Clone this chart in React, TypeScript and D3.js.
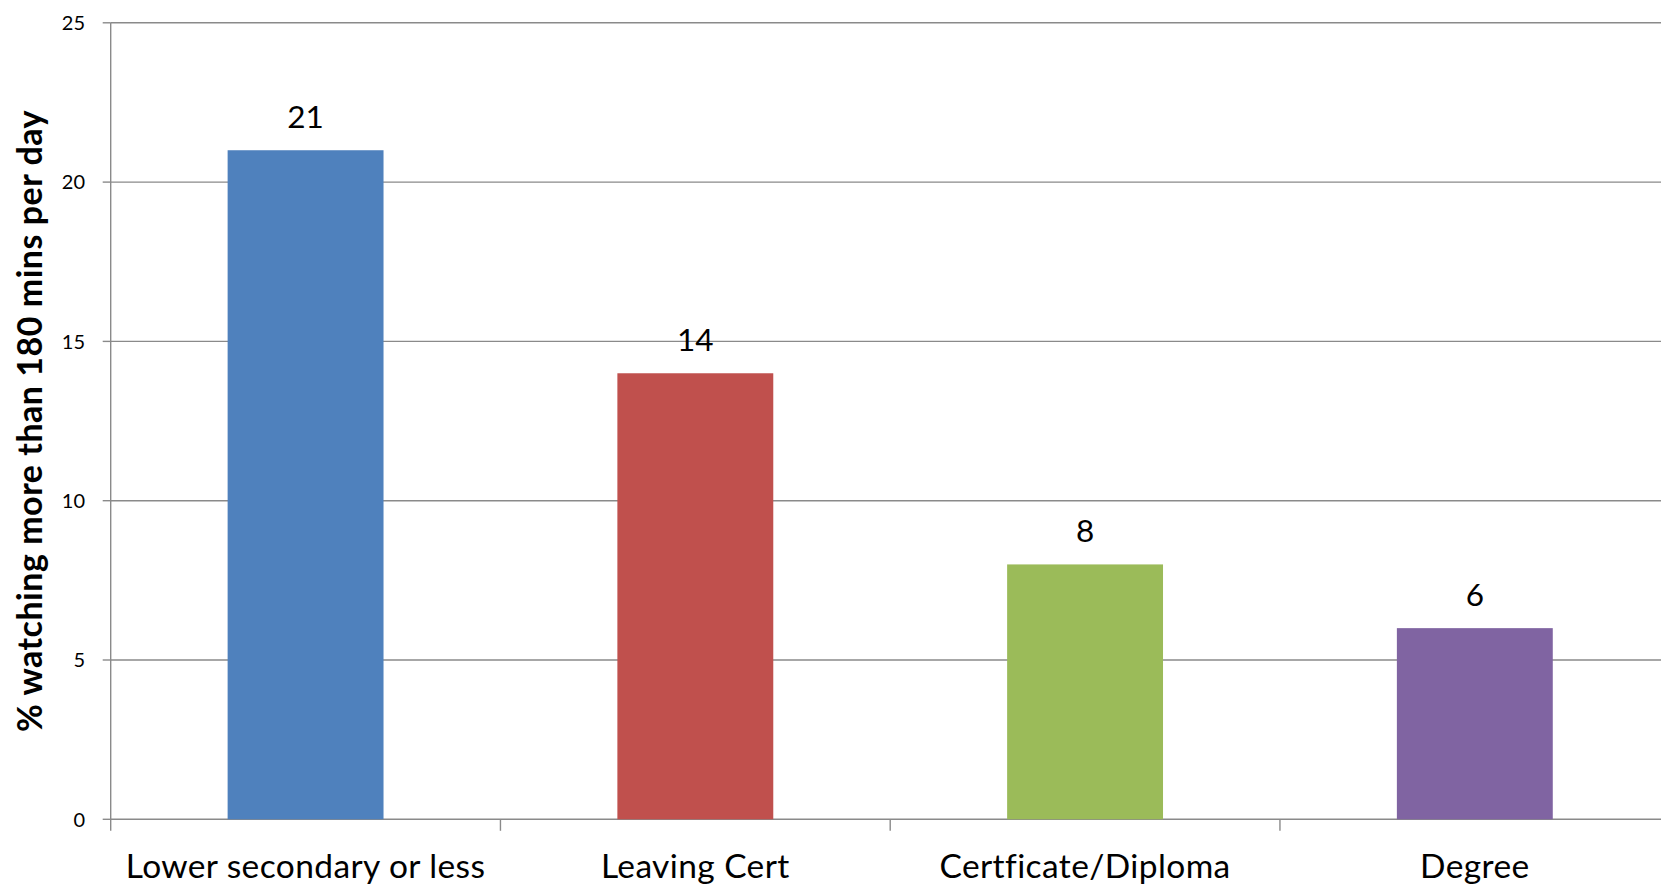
import React from "react";
import * as d3 from "d3";

// Share of adults watching TV for more than 180 minutes a day, by education level
const categories: string[] = [
  "Lower secondary or less",
  "Leaving Cert",
  "Certficate/Diploma",
  "Degree",
];
const values: number[] = [21, 14, 8, 6];
const barColors: string[] = ["#4F81BD", "#C0504D", "#9BBB59", "#8064A2"];
const yTicks: number[] = [0, 5, 10, 15, 20, 25];
const yTitle = "% watching more than 180 mins per day";

const W = 1661;
const H = 886;
const FONT = "Lato, 'Open Sans', sans-serif";

export default function App() {
  const left = 110.7;
  const step = 389.75;
  const right = left + step * categories.length;
  const top = 22.8;
  const bottom = 819.3;

  const x = d3
    .scaleBand<string>()
    .domain(categories)
    .range([left, right])
    .paddingInner(0.6)
    .paddingOuter(0.3);
  const y = d3.scaleLinear().domain([0, 25]).range([bottom, top]);

  const boundaries = d3.range(categories.length + 1).map((i) => left + i * x.step());
  const axisColor = "#8a8a8a";

  return (
    <svg
      width={W}
      height={H}
      style={{ position: "absolute", left: 0, top: 0, background: "#fff" }}
      fontFamily={FONT}
    >
      {/* horizontal gridlines and y ticks */}
      {yTicks.map((t) => (
        <g key={t}>
          <line
            x1={left}
            x2={right}
            y1={y(t)}
            y2={y(t)}
            stroke={axisColor}
            strokeWidth={1.4}
          />
          <line
            x1={left - 8}
            x2={left}
            y1={y(t)}
            y2={y(t)}
            stroke={axisColor}
            strokeWidth={1.4}
          />
          <text
            x={85}
            y={y(t)}
            dy="0.36em"
            textAnchor="end"
            fontSize={20}
            fill="#000"
          >
            {t}
          </text>
        </g>
      ))}

      {/* y axis line */}
      <line x1={left} x2={left} y1={top} y2={bottom + 11.5} stroke={axisColor} strokeWidth={1.4} />

      {/* category boundary ticks */}
      {boundaries.slice(1).map((bx, i) => (
        <line
          key={i}
          x1={bx}
          x2={bx}
          y1={bottom}
          y2={bottom + 11.5}
          stroke={axisColor}
          strokeWidth={1.4}
        />
      ))}

      {/* bars */}
      {categories.map((c, i) => (
        <rect
          key={c}
          x={x(c)!}
          y={y(values[i])}
          width={x.bandwidth()}
          height={y(0) - y(values[i])}
          fill={barColors[i]}
        />
      ))}

      {/* value labels */}
      {categories.map((c, i) => (
        <text
          key={c}
          x={x(c)! + x.bandwidth() / 2}
          y={y(values[i]) - 22}
          textAnchor="middle"
          fontSize={31.5}
          fill="#000"
        >
          {values[i]}
        </text>
      ))}

      {/* category labels */}
      {categories.map((c) => (
        <text
          key={c}
          x={x(c)! + x.bandwidth() / 2}
          y={878.3}
          textAnchor="middle"
          fontSize={33.5}
          letterSpacing={0.4}
          fill="#000"
        >
          {c}
        </text>
      ))}

      {/* y axis title */}
      <text
        transform={`translate(42, ${(top + bottom) / 2}) rotate(-90)`}
        textAnchor="middle"
        fontSize={34}
        letterSpacing={0.5}
        fontWeight="bold"
        fill="#000"
      >
        {yTitle}
      </text>
    </svg>
  );
}
